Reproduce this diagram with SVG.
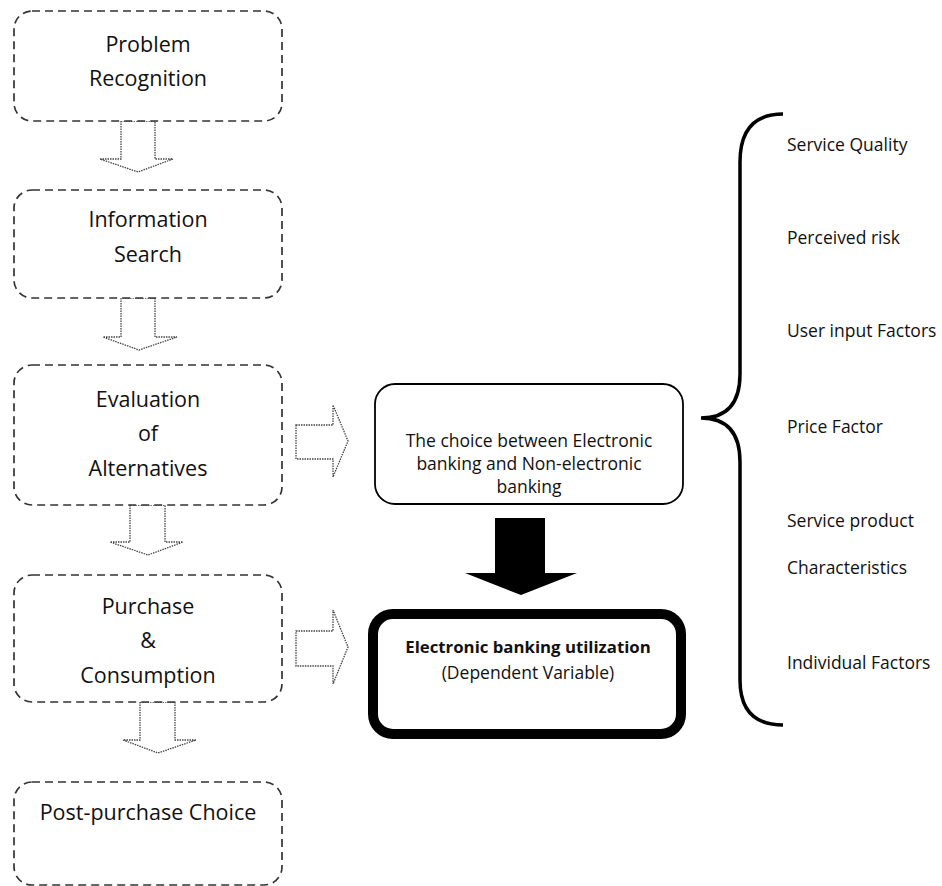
<svg xmlns="http://www.w3.org/2000/svg" width="942" height="886" viewBox="0 0 942 886">
<style>
  .stage { fill: #fff; stroke: #333; stroke-width: 1.7; stroke-dasharray: 8 5; }
  .t { font-family: "Open Sans", "Noto Sans", sans-serif; fill: #111; text-anchor: middle; }
  .big { font-size: 21.5px; }
  .mid { font-size: 17.5px; }
  .lbl { font-family: "Open Sans", "Noto Sans", sans-serif; fill: #111; font-size: 17.5px; }
  .hollow { fill: #fff; stroke: #444; stroke-width: 1.3; stroke-dasharray: 1.5 1; }
</style>
<rect width="942" height="886" fill="#fff"/>

<g id="connectors">
  <polygon class="hollow" points="121,121 121,159 100,159 138,172 173,159 155,159 155,121"/>
  <polygon class="hollow" points="121,298 121,337 103,337 139,350 177,337 155,337 155,298"/>
  <polygon class="hollow" points="130,505 130,542 110,542 148,555 183,542 165,542 165,505"/>
  <polygon class="hollow" points="140,702 140,740 123,740 158,753 196,740 175,740 175,702"/>
  <polygon class="hollow" points="296,425 333,425 333,405 348,441 333,477 333,459 296,459"/>
  <polygon class="hollow" points="296,631 333,631 333,610 348,647 333,684 333,666 296,666"/>
  <polygon fill="#000" points="495,518 545,518 545,573 577,573 521,595 465,573 495,573"/>
  <path d="M783,114 C756,114 740,128 740,162 L740,374 C740,404 726,418 701,418 C726,418 740,432 740,462 L740,680 C740,712 756,725 783,725" fill="none" stroke="#000" stroke-width="3.5"/>
</g>

<g id="problem-recognition">
  <rect class="stage" x="14" y="11" width="268" height="110" rx="18"/>
  <text class="t big" x="148" y="52">Problem</text>
  <text class="t big" x="148" y="86">Recognition</text>
</g>
<g id="information-search">
  <rect class="stage" x="14" y="190" width="268" height="108" rx="18"/>
  <text class="t big" x="148" y="227">Information</text>
  <text class="t big" x="148" y="262">Search</text>
</g>
<g id="evaluation">
  <rect class="stage" x="14" y="365" width="268" height="140" rx="18"/>
  <text class="t big" x="148" y="407">Evaluation</text>
  <text class="t big" x="148" y="441">of</text>
  <text class="t big" x="148" y="476">Alternatives</text>
</g>
<g id="purchase">
  <rect class="stage" x="14" y="575" width="268" height="127" rx="18"/>
  <text class="t big" x="148" y="614">Purchase</text>
  <text class="t big" x="148" y="648">&amp;</text>
  <text class="t big" x="148" y="683">Consumption</text>
</g>
<g id="post-purchase">
  <rect class="stage" x="14" y="782" width="268" height="103" rx="18"/>
  <text class="t big" x="148" y="820">Post-purchase Choice</text>
</g>

<g id="choice">
  <rect x="375" y="384" width="308" height="120" rx="20" fill="#fff" stroke="#000" stroke-width="1.8"/>
  <text class="t mid" x="529" y="447">The choice between Electronic</text>
  <text class="t mid" x="529" y="470">banking and Non-electronic</text>
  <text class="t mid" x="529" y="493">banking</text>
</g>

<g id="utilization">
  <rect x="373" y="614" width="308" height="120" rx="20" fill="#fff" stroke="#000" stroke-width="10"/>
  <text class="t" x="528" y="653" font-size="16.8" font-weight="bold">Electronic banking utilization</text>
  <text class="t mid" x="528" y="679">(Dependent Variable)</text>
</g>

<g id="factors">
  <text class="lbl" x="787" y="151">Service Quality</text>
  <text class="lbl" x="787" y="244">Perceived risk</text>
  <text class="lbl" x="787" y="337">User input Factors</text>
  <text class="lbl" x="787" y="433">Price Factor</text>
  <text class="lbl" x="787" y="527">Service product</text>
  <text class="lbl" x="787" y="574">Characteristics</text>
  <text class="lbl" x="787" y="669">Individual Factors</text>
</g>
</svg>
